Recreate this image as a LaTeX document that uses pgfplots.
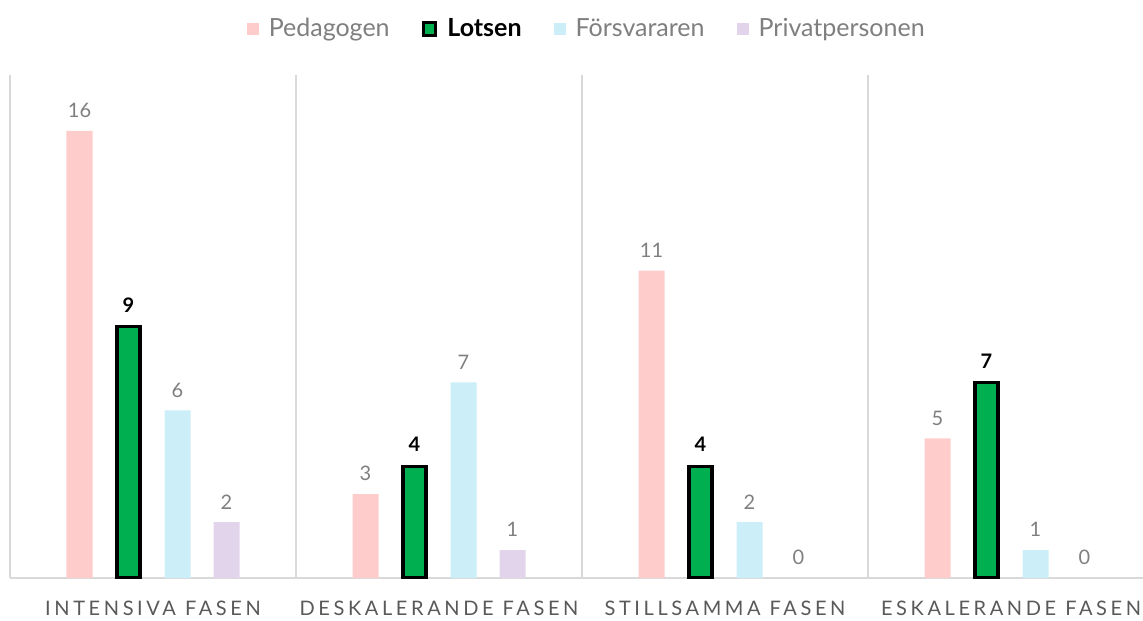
\documentclass[border=0pt]{standalone}
\usepackage{fontspec}
\setmainfont{Lato}
\usepackage{pgfplots}
\pgfplotsset{compat=1.18}
\definecolor{ped}{HTML}{FFCCCC}
\definecolor{lots}{HTML}{00B050}
\definecolor{fors}{HTML}{CCEEF9}
\definecolor{priv}{HTML}{E2D5EB}
\definecolor{lbl}{HTML}{7F7F7F}
\definecolor{tickc}{HTML}{595959}
\definecolor{sep}{HTML}{D9D9D9}
\newcommand{\wsp}{\hspace{0.45em}}

\begin{document}
\begin{tikzpicture}
\begin{axis}[
  at={(0,0)}, anchor=south west,
  scale only axis, width=572pt, height=251.5pt,
  xmin=-0.5, xmax=3.5, ymin=0, ymax=18,
  ybar, bar width=13pt,
  axis x line*=bottom, axis y line=none,
  x axis line style={sep, line width=1pt, -},
  xtick={0,1,2,3},
  xticklabels={INTENSIVA\wsp FASEN, DESKALERANDE\wsp FASEN, STILLSAMMA\wsp FASEN, ESKALERANDE\wsp FASEN},
  major tick length=0pt,
  xticklabel style={font=\fontsize{10}{12}\selectfont\addfontfeature{LetterSpace=18}, text=tickc, yshift=-8pt},
  extra x ticks={-0.5,0.5,1.5,2.5,3.5}, extra x tick labels={},
  extra x tick style={grid=major, major grid style={sep, line width=1pt}},
  /pgf/number format/assume math mode=true,
  nodes near coords,
  every node near coord/.append style={font=\fontsize{10}{12}\selectfont, text=lbl, yshift=3pt},
  legend style={at={(0.505,1.091)}, anchor=center, draw=none, legend columns=-1,
    font=\fontsize{12.5}{14}\selectfont, text=lbl,
    /tikz/every odd column/.append style={column sep=3pt},
    /tikz/every even column/.append style={column sep=14pt}},
  legend image code/.code={\path[#1] (0pt,-3pt) rectangle (6pt,3pt);},
]
\addplot[fill=ped, draw=none, bar shift=-36.75pt] coordinates {(0,16) (1,3) (2,11) (3,5)};
\addlegendentry{Pedagogen}
\addplot[fill=lots, draw=black, line width=1.6pt, bar width=11.5pt, bar shift=-12.25pt,
  every node near coord/.append style={font=\fontsize{10}{12}\selectfont\bfseries, text=black},
  legend image code/.code={\path[fill=lots, draw=black, line width=1.5pt] (0pt,-3.2pt) rectangle (6.4pt,3.2pt);}]
  coordinates {(0,9) (1,4) (2,4) (3,7)};
\addlegendentry{\textbf{\color{black}Lotsen}}
\addplot[fill=fors, draw=none, bar shift=12.25pt] coordinates {(0,6) (1,7) (2,2) (3,1)};
\addlegendentry{Försvararen}
\addplot[fill=priv, draw=none, bar shift=36.75pt] coordinates {(0,2) (1,1) (2,0) (3,0)};
\addlegendentry{Privatpersonen}
\end{axis}
\pgfresetboundingbox
\path[use as bounding box] (-5pt,-21pt) rectangle (566.5pt,289pt);
\end{tikzpicture}
\end{document}
